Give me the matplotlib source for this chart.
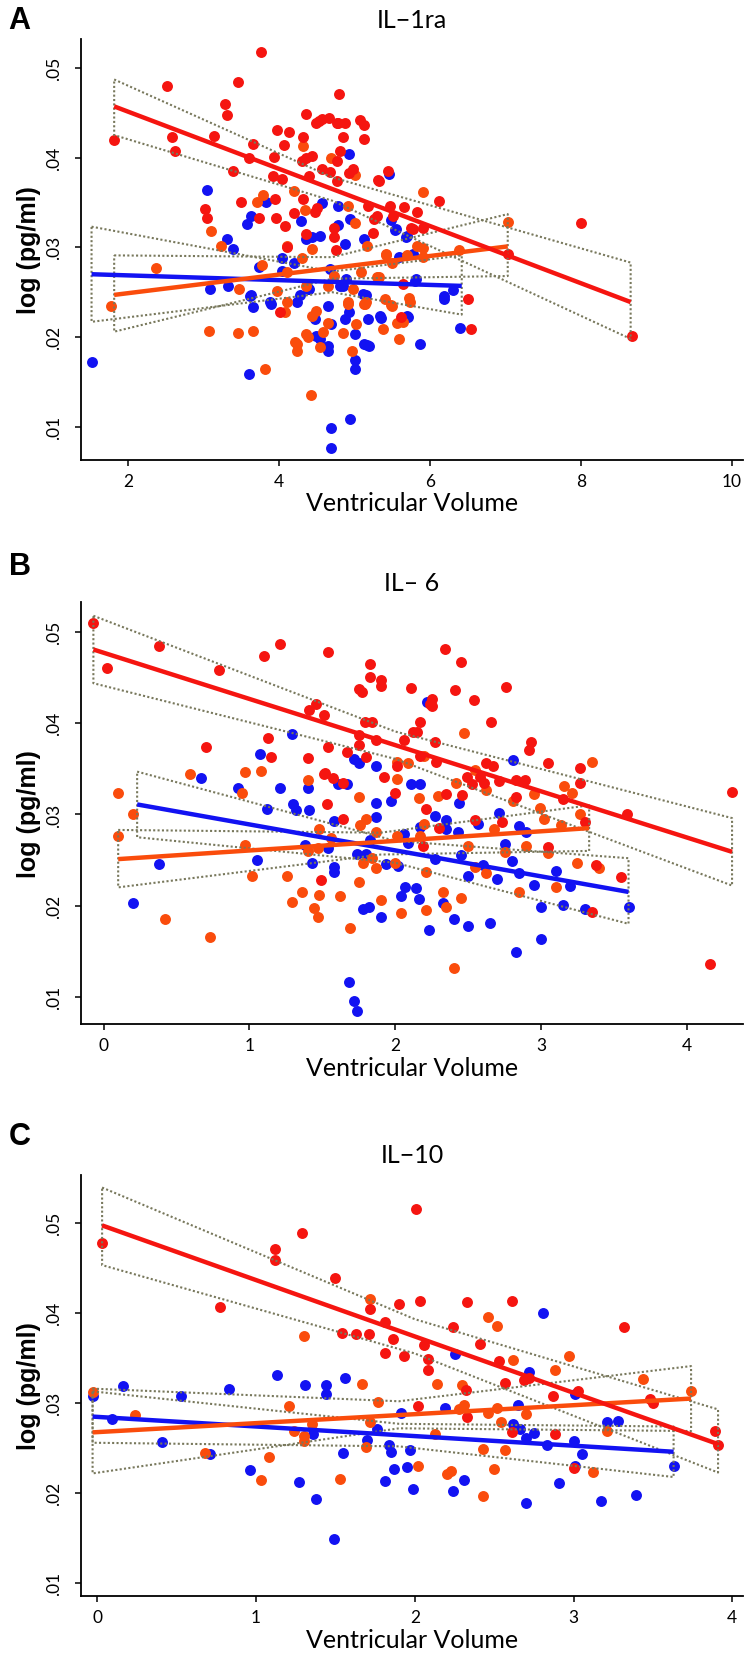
import numpy as np
import matplotlib.pyplot as plt

plt.rcParams['font.family'] = ['Lato', 'DejaVu Sans']

BLUE = '#1212f2'
ORANGE = '#fa4c0c'
RED = '#f51510'
CI_COLOR = '#78785c'

# ---- panel A : IL-1ra ----
A_BLUE = [(3.04, .0364), (3.63, .0335), (3.57, .0326), (3.31, .0309), (3.39, .0298), (3.82, .0350),
          (3.08, .0254), (3.32, .0257), (3.73, .0278), (4.03, .0288), (4.19, .0283), (4.29, .0329),
          (4.35, .0309), (4.43, .0312), (4.57, .0349), (4.54, .0313), (4.78, .0346), (4.78, .0325),
          (4.92, .0404), (4.94, .0332), (4.87, .0304), (5.13, .0309), (4.40, .0254), (4.27, .0247),
          (4.80, .0257), (5.15, .0247), (3.63, .0247), (4.04, .0274), (5.69, .0313), (5.53, .0319),
          (5.80, .0263), (5.71, .0222), (5.86, .0192), (5.18, .0220), (5.33, .0224), (5.13, .0192),
          (5.00, .0203), (4.87, .0220), (4.65, .0235), (4.47, .0220), (4.23, .0239), (3.88, .0239),
          (3.65, .0233), (3.61, .0246), (4.65, .0190), (4.54, .0198), (5.11, .0248), (4.85, .0257),
          (4.38, .0254), (4.67, .0276), (4.89, .0265), (1.52, .0172), (3.60, .0159), (3.89, .0237),
          (4.49, .0201), (4.64, .0185), (4.68, .0215), (4.93, .0228), (5.00, .0175), (5.00, .0164),
          (5.16, .0191), (5.19, .0190), (5.35, .0221), (5.70, .0223), (6.18, .0242), (6.40, .0210),
          (4.68, .0099), (4.68, .0076), (4.94, .0109), (5.48, .0330), (5.55, .0320), (5.68, .0312),
          (5.77, .0293), (5.59, .0289), (5.81, .0265), (6.30, .0252), (6.19, .0246), (5.46, .0382)]
A_ORANGE = [(2.37, .0277), (3.10, .0318), (3.23, .0301), (3.70, .0350), (3.79, .0358), (3.46, .0253),
            (3.97, .0251), (4.10, .0301), (4.19, .0363), (4.32, .0413), (4.68, .0400), (4.44, .0298),
            (4.30, .0288), (4.10, .0272), (3.77, .0280), (5.01, .0381), (4.91, .0346), (5.00, .0327),
            (5.16, .0301), (5.09, .0272), (4.72, .0268), (4.98, .0254), (4.35, .0257), (4.65, .0257),
            (4.34, .0342), (5.90, .0362), (5.73, .0239), (5.40, .0242), (5.49, .0235), (5.59, .0198),
            (5.56, .0216), (5.91, .0299), (5.82, .0302), (5.42, .0293), (5.49, .0283), (5.29, .0267),
            (5.13, .0237), (5.02, .0215), (4.85, .0205), (4.43, .0224), (4.38, .0200), (4.21, .0194),
            (3.07, .0207), (3.45, .0205), (3.65, .0207), (4.10, .0239), (4.65, .0216), (4.49, .0229),
            (4.91, .0239), (5.15, .0239), (5.38, .0209), (1.77, .0235), (3.81, .0164), (4.07, .0228),
            (4.24, .0192), (4.23, .0184), (4.35, .0203), (4.54, .0189), (4.58, .0206), (4.42, .0136),
            (4.96, .0185), (4.91, .0237), (5.14, .0237), (5.48, .0236), (5.64, .0217), (7.04, .0328),
            (6.39, .0297), (5.90, .0289), (5.70, .0291), (5.41, .0291), (5.32, .0267), (5.72, .0244)]
A_RED = [(1.81, .0420), (2.51, .0480), (2.58, .0423), (2.62, .0407), (3.14, .0424), (3.28, .0460),
         (3.31, .0447), (3.45, .0484), (3.39, .0385), (3.76, .0518), (3.65, .0415), (3.60, .0399),
         (3.01, .0343), (3.04, .0333), (3.49, .0350), (3.73, .0333), (3.93, .0401), (3.97, .0431),
         (4.06, .0414), (4.13, .0428), (3.92, .0380), (4.04, .0376), (3.94, .0354), (3.95, .0333),
         (4.07, .0324), (4.19, .0338), (4.10, .0300), (4.32, .0423), (4.35, .0449), (4.36, .0400),
         (4.30, .0396), (4.43, .0402), (4.40, .0380), (4.32, .0354), (4.50, .0344), (4.56, .0387),
         (4.53, .0441), (4.66, .0444), (4.79, .0471), (4.78, .0439), (4.87, .0438), (4.85, .0423),
         (4.80, .0407), (4.77, .0396), (4.67, .0384), (4.77, .0374), (4.93, .0383), (4.98, .0387),
         (5.07, .0442), (5.13, .0436), (5.13, .0421), (4.72, .0321), (4.73, .0312), (4.47, .0339),
         (4.75, .0297), (5.18, .0346), (5.25, .0332), (4.36, .0315), (5.44, .0385), (5.31, .0375),
         (5.47, .0346), (5.65, .0345), (5.83, .0339), (5.75, .0321), (5.90, .0322), (5.51, .0335),
         (5.24, .0316), (5.29, .0335), (5.64, .0259), (5.62, .0222), (4.01, .0228), (6.50, .0242),
         (6.54, .0209), (8.68, .0201), (5.32, .0374), (6.12, .0352), (5.77, .0320), (8.00, .0327),
         (7.03, .0293), (4.49, .0439), (4.56, .0443), (4.76, .0439)]
# fit lines [[x0, x1], [y0, y1]] and confidence outlines [x, upper, lower]
A_FIT_BLUE = [[1.51, 6.42], [.0270, .0257]]
A_CI_BLUE = [[1.51, 4.7, 6.42], [.0323, .0273, .0291], [.0217, .0250, .0225]]
A_FIT_ORANGE = [[1.81, 7.03], [.0247, .0301]]
A_CI_ORANGE = [[1.81, 4.7, 7.03], [.0291, .0289, .0337], [.0206, .0265, .0268]]
A_FIT_RED = [[1.81, 8.66], [.0457, .0239]]
A_CI_RED = [[1.81, 4.7, 8.66], [.0487, .0378, .0283], [.0425, .0352, .0198]]

# ---- panel B : IL-6 ----
B_BLUE = [(0.67, .0340), (0.92, .0329), (1.07, .0366), (1.29, .0388), (1.21, .0329), (1.12, .0306),
          (1.30, .0312), (1.32, .0305), (1.41, .0305), (1.40, .0329), (1.58, .0293), (1.61, .0333),
          (1.67, .0333), (1.72, .0361), (1.75, .0356), (1.87, .0353), (1.87, .0313), (1.87, .0297),
          (2.11, .0333), (2.17, .0333), (1.97, .0315), (2.27, .0298), (2.35, .0294), (2.17, .0286),
          (2.06, .0279), (2.09, .0269), (1.83, .0272), (1.74, .0257), (1.80, .0257), (1.94, .0246),
          (2.02, .0243), (2.27, .0251), (1.38, .0266), (1.54, .0263), (1.43, .0247), (1.58, .0242),
          (1.58, .0237), (1.05, .0250), (0.38, .0246), (2.07, .0220), (2.14, .0219), (2.04, .0211),
          (2.16, .0207), (2.33, .0203), (1.78, .0196), (1.82, .0199), (1.90, .0187), (2.23, .0173),
          (2.35, .0284), (2.81, .0360), (2.44, .0313), (2.71, .0302), (2.57, .0290), (2.85, .0287),
          (2.90, .0281), (2.43, .0281), (2.22, .0423), (2.83, .0149), (3.00, .0163), (1.68, .0116),
          (1.72, .0095), (1.74, .0084), (2.45, .0255), (2.50, .0232), (2.60, .0245), (2.70, .0229),
          (2.75, .0268), (2.80, .0249), (2.85, .0236), (2.95, .0223), (3.00, .0198), (3.10, .0238),
          (3.15, .0201), (3.30, .0196), (3.20, .0221), (2.65, .0181), (2.50, .0178), (3.60, .0198),
          (2.40, .0185), (0.20, .0203)]
B_ORANGE = [(0.59, .0344), (0.10, .0323), (0.20, .0300), (0.10, .0276), (0.97, .0347), (1.08, .0348),
            (0.95, .0323), (1.40, .0338), (1.75, .0319), (1.76, .0288), (1.80, .0295), (1.48, .0284),
            (1.56, .0274), (2.01, .0339), (2.16, .0318), (2.29, .0320), (2.01, .0358), (2.09, .0357),
            (1.87, .0281), (2.01, .0276), (2.17, .0276), (2.20, .0289), (0.97, .0267), (1.02, .0232),
            (1.26, .0232), (1.36, .0215), (1.29, .0204), (1.44, .0197), (1.47, .0188), (1.48, .0212),
            (1.62, .0210), (1.75, .0226), (1.69, .0175), (1.90, .0206), (2.04, .0192), (2.21, .0195),
            (2.33, .0215), (1.78, .0247), (1.87, .0241), (2.00, .0247), (2.21, .0237), (1.84, .0252),
            (0.42, .0185), (0.73, .0166), (1.47, .0263), (1.40, .0260), (2.47, .0389), (3.35, .0358),
            (3.16, .0331), (3.21, .0323), (2.95, .0322), (2.99, .0307), (3.02, .0295), (3.14, .0288),
            (3.27, .0301), (2.81, .0315), (2.62, .0327), (2.55, .0349), (2.42, .0335), (2.20, .0364),
            (2.68, .0284), (2.40, .0131), (2.50, .0265), (2.55, .0242), (2.62, .0236), (2.75, .0259),
            (2.90, .0265), (3.05, .0258), (3.25, .0247), (3.40, .0241), (2.45, .0208), (2.85, .0215),
            (3.10, .0220), (2.35, .0198)]
B_RED = [(-0.07, .0510), (0.02, .0461), (0.38, .0485), (0.79, .0458), (0.70, .0374), (1.10, .0474),
         (1.21, .0487), (1.13, .0384), (1.15, .0363), (1.54, .0478), (1.46, .0421), (1.41, .0415),
         (1.51, .0409), (1.40, .0362), (1.54, .0374), (1.52, .0345), (1.57, .0340), (1.53, .0312),
         (1.64, .0295), (1.64, .0334), (1.75, .0438), (1.77, .0434), (1.83, .0465), (1.83, .0451),
         (1.79, .0402), (1.84, .0401), (1.75, .0387), (1.75, .0376), (1.80, .0363), (1.67, .0368),
         (1.87, .0382), (2.06, .0382), (2.12, .0390), (2.17, .0402), (2.24, .0421), (2.27, .0380),
         (2.28, .0358), (2.17, .0364), (2.01, .0353), (1.92, .0341), (2.00, .0323), (2.21, .0306),
         (2.30, .0285), (2.35, .0322), (1.51, .0344), (1.49, .0228), (2.19, .0265), (2.34, .0482),
         (2.45, .0467), (2.41, .0437), (2.54, .0426), (2.76, .0440), (2.11, .0439), (1.90, .0448),
         (1.90, .0441), (2.25, .0427), (2.25, .0419), (2.66, .0402), (2.15, .0391), (2.93, .0379),
         (2.92, .0371), (3.05, .0356), (3.27, .0351), (3.27, .0335), (2.62, .0357), (2.67, .0353),
         (2.83, .0338), (2.89, .0338), (2.71, .0337), (2.49, .0341), (2.58, .0341), (2.53, .0333),
         (2.61, .0335), (2.46, .0321), (2.83, .0319), (3.15, .0317), (3.59, .0300), (3.30, .0292),
         (4.31, .0325), (2.73, .0292), (2.55, .0294), (4.16, .0136), (3.55, .0231), (3.38, .0244),
         (3.35, .0193), (3.05, .0264)]
B_FIT_BLUE = [[0.23, 3.60], [.0311, .0215]]
B_CI_BLUE = [[0.23, 2.0, 3.60], [.0347, .0271, .0252], [.0275, .0247, .0180]]
B_FIT_ORANGE = [[0.10, 3.33], [.0251, .0285]]
B_CI_ORANGE = [[0.10, 1.9, 3.33], [.0283, .0280, .0310], [.0220, .0256, .0260]]
B_FIT_RED = [[-0.07, 4.31], [.0481, .0259]]
B_CI_RED = [[-0.07, 2.0, 4.31], [.0518, .0391, .0296], [.0444, .0361, .0222]]

# ---- panel C : IL-10 ----
C_BLUE = [(0.16, .0319), (0.53, .0308), (0.83, .0316), (1.13, .0331), (1.31, .0320), (1.44, .0320),
          (1.44, .0310), (1.56, .0328), (-0.03, .0308), (1.91, .0289), (2.19, .0295), (1.76, .0271),
          (1.36, .0266), (1.70, .0259), (1.84, .0253), (1.85, .0246), (1.97, .0248), (1.55, .0245),
          (0.41, .0257), (0.71, .0243), (2.81, .0400), (2.25, .0354), (2.72, .0335), (3.01, .0310),
          (0.09, .0282), (0.96, .0226), (1.27, .0213), (1.38, .0194), (1.49, .0149), (1.81, .0214),
          (1.87, .0227), (1.95, .0229), (1.99, .0205), (2.24, .0203), (2.31, .0215), (2.65, .0298),
          (2.62, .0277), (2.66, .0271), (2.70, .0261), (2.75, .0267), (2.83, .0254), (2.70, .0189),
          (2.91, .0211), (3.00, .0258), (3.01, .0230), (3.05, .0243), (3.17, .0191), (3.21, .0279),
          (3.28, .0280), (3.39, .0198), (3.63, .0230)]
C_ORANGE = [(1.30, .0374), (1.72, .0415), (1.67, .0321), (-0.03, .0312), (2.14, .0321), (1.21, .0297),
            (1.77, .0301), (1.72, .0279), (2.13, .0266), (1.24, .0269), (1.30, .0264), (1.30, .0258),
            (1.35, .0277), (1.69, .0251), (0.68, .0245), (1.08, .0240), (2.46, .0395), (2.52, .0385),
            (2.62, .0348), (2.97, .0352), (2.88, .0337), (2.30, .0320), (3.44, .0327), (3.74, .0313),
            (0.24, .0287), (1.03, .0215), (1.53, .0216), (2.02, .0230), (2.20, .0221), (2.23, .0225),
            (2.28, .0293), (2.31, .0298), (2.43, .0249), (2.43, .0197), (2.46, .0289), (2.50, .0227),
            (2.52, .0295), (2.54, .0279), (2.57, .0248), (2.70, .0288), (3.12, .0224), (3.21, .0269)]
C_RED = [(0.03, .0478), (0.77, .0407), (1.12, .0471), (1.12, .0459), (1.29, .0489), (1.50, .0439),
         (1.54, .0378), (1.63, .0377), (1.71, .0377), (1.72, .0404), (1.90, .0410), (2.03, .0413),
         (1.81, .0390), (1.86, .0371), (2.06, .0364), (2.08, .0349), (2.08, .0337), (1.81, .0355),
         (1.93, .0352), (2.02, .0297), (2.01, .0515), (2.33, .0412), (2.61, .0413), (2.24, .0384),
         (2.41, .0365), (2.53, .0347), (2.57, .0322), (2.32, .0315), (2.69, .0326), (2.72, .0328),
         (3.32, .0384), (2.87, .0308), (3.03, .0313), (3.48, .0304), (2.33, .0284), (2.61, .0268),
         (2.88, .0266), (3.00, .0228), (3.50, .0300), (3.89, .0269), (3.91, .0253)]
C_FIT_BLUE = [[-0.03, 3.63], [.0285, .0246]]
C_CI_BLUE = [[-0.03, 1.9, 3.63], [.0313, .0277, .0274], [.0256, .0252, .0218]]
C_FIT_ORANGE = [[-0.03, 3.74], [.02675, .0305]]
C_CI_ORANGE = [[-0.03, 1.9, 3.74], [.0316, .0302, .0341], [.0222, .0272, .0269]]
C_FIT_RED = [[0.03, 3.91], [.0497, .02545]]
C_CI_RED = [[0.03, 2.0, 3.91], [.0539, .0393, .0293], [.0453, .0355, .0223]]

Y_TICKS = [.01, .02, .03, .04, .05]
Y_TICK_LABELS = ['.01', '.02', '.03', '.04', '.05']


def draw_panel(ax, scatters, fits, cis, xlim, ylim, xticks, title, letter, letter_y):
    colors = [BLUE, ORANGE, RED]
    for pts, c in zip(scatters, colors):
        pts = np.array(pts)
        ax.scatter(pts[:, 0], pts[:, 1], s=62, color=c, linewidths=0, zorder=2)
    # confidence outlines (dotted), then fitted lines
    for ci in cis:
        xs, hi, lo = ci
        ox = list(xs) + list(xs[::-1]) + [xs[0]]
        oy = list(hi) + list(lo[::-1]) + [hi[0]]
        ax.plot(ox, oy, color=CI_COLOR, lw=1.5, ls=(0, (1, 1.1)), zorder=3)
    for fit, c in zip(fits, colors):
        ax.plot(fit[0], fit[1], color=c, lw=3.2, solid_capstyle='butt', zorder=4)

    ax.set_xlim(xlim)
    ax.set_ylim(ylim)
    ax.set_xticks(xticks)
    ax.set_xticklabels([str(t) for t in xticks])
    ax.set_yticks(Y_TICKS)
    ax.set_yticklabels(Y_TICK_LABELS, rotation=90, va='center')
    for side in ['top', 'right']:
        ax.spines[side].set_visible(False)
    for side in ['left', 'bottom']:
        ax.spines[side].set_linewidth(1.3)
    ax.tick_params(axis='both', length=4.5, width=1.1, labelsize=12.5)
    ax.tick_params(axis='x', pad=5)
    ax.tick_params(axis='y', pad=9)

    ax.text(0.5, 1.0475, title, transform=ax.transAxes, ha='center', va='center', fontsize=18)
    ax.text(0.5, -0.102, 'Ventricular Volume', transform=ax.transAxes,
            ha='center', va='center', fontsize=18)
    ax.text(-0.078, 0.5, 'log (pg/ml)', transform=ax.transAxes, rotation=90,
            ha='center', va='center', fontsize=18, fontweight='bold',
            family=['Liberation Sans', 'DejaVu Sans'])
    fig.text(0.026, letter_y, letter, ha='center', va='center', fontsize=22,
             fontweight='bold', family=['Liberation Sans', 'DejaVu Sans'])


fig = plt.figure(figsize=(7.52, 16.56), dpi=100)
ax_a = fig.add_axes([0.1077, 0.7216, 0.8803, 0.2542])
ax_b = fig.add_axes([0.1077, 0.3810, 0.8803, 0.2548])
ax_c = fig.add_axes([0.1077, 0.0356, 0.8803, 0.2543])

draw_panel(ax_a, [A_BLUE, A_ORANGE, A_RED], [A_FIT_BLUE, A_FIT_ORANGE, A_FIT_RED],
           [A_CI_BLUE, A_CI_ORANGE, A_CI_RED], (1.37, 10.15), (0.0063, 0.0532),
           [2, 4, 6, 8, 10], 'IL\u22121ra', 'A', 0.9873)
draw_panel(ax_b, [B_BLUE, B_ORANGE, B_RED], [B_FIT_BLUE, B_FIT_ORANGE, B_FIT_RED],
           [B_CI_BLUE, B_CI_ORANGE, B_CI_RED], (-0.155, 4.385), (0.0070, 0.0533),
           [0, 1, 2, 3, 4], 'IL\u2013 6', 'B', 0.6576)
draw_panel(ax_c, [C_BLUE, C_ORANGE, C_RED], [C_FIT_BLUE, C_FIT_ORANGE, C_FIT_RED],
           [C_CI_BLUE, C_CI_ORANGE, C_CI_RED], (-0.103, 4.067), (0.0086, 0.0553),
           [0, 1, 2, 3, 4], 'IL\u221210', 'C', 0.3134)

fig.savefig('out.png', dpi=100)
